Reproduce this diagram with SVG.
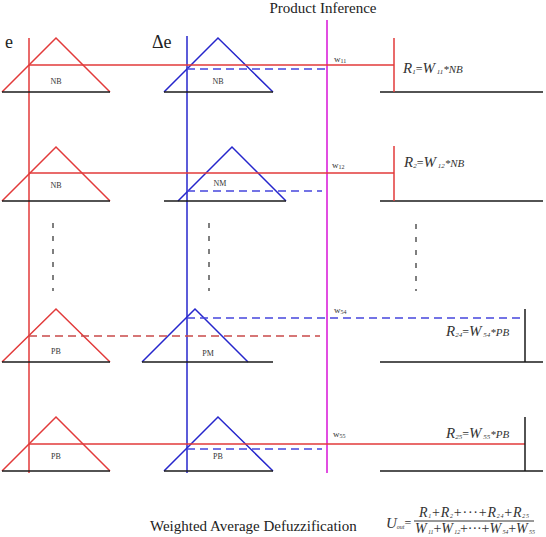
<svg xmlns="http://www.w3.org/2000/svg" width="546" height="537" viewBox="0 0 546 537">
<style>
.red{stroke:#e23a3a;stroke-width:1.5;fill:none}
.blue{stroke:#2626cc;stroke-width:1.5;fill:none}
.mag{stroke:#e14ee1;stroke-width:2;fill:none}
.blk{stroke:#1a1a1a;stroke-width:1.5;fill:none}
.bd{stroke:#4646dd;stroke-width:1.5;fill:none;stroke-dasharray:8 5}
.rd{stroke:#c94a4a;stroke-width:1.5;fill:none;stroke-dasharray:8 5}
.gd{stroke:#555;stroke-width:1.5;fill:none;stroke-dasharray:5 8}
.t{font-family:"Liberation Serif",serif;fill:#222}
.lab{font-family:"Liberation Serif",serif;font-size:8px;fill:#333;text-anchor:middle}
.w{font-family:"Liberation Serif",serif;font-size:9px;fill:#333}
.r{font-family:"Liberation Serif",serif;font-style:italic;fill:#333}
</style>
<text class="t" x="323" y="13" font-size="15" text-anchor="middle">Product Inference</text>
<text class="t" x="5" y="48" font-size="18">e</text>
<text class="t" x="152" y="48" font-size="18">Δe</text>

<g id="connectors">
<line class="red" x1="29" y1="38" x2="29" y2="473"/>
<line class="blue" x1="187" y1="36" x2="187" y2="473"/>
<line class="mag" x1="327" y1="20" x2="327" y2="473"/>
<line class="gd" x1="53" y1="223" x2="53" y2="291"/>
<line class="gd" x1="209" y1="223" x2="209" y2="291"/>
<line class="gd" x1="416" y1="224" x2="416" y2="291"/>
</g>

<g id="row1">
<polyline class="red" points="2,92 56,38 110,92"/>
<polyline class="blue" points="164,92 218,38 273,92"/>
<polyline class="blk" points="2,92 110,92"/>
<polyline class="blk" points="164,92 273,92"/>
<polyline class="blk" points="380,92 543,92"/>
<line class="red" x1="29" y1="65" x2="394" y2="65"/>
<line class="bd" x1="187" y1="69" x2="325" y2="69"/>
<line class="red" x1="394" y1="38" x2="394" y2="92"/>
<text class="lab" x="56" y="84">NB</text>
<text class="lab" x="218" y="84">NB</text>
<text class="w" x="334" y="62">w<tspan font-size="6" dy="1">11</tspan></text>
<text class="r" x="403" y="73" font-size="15">R<tspan font-size="7" dy="1">1</tspan><tspan font-style="normal" font-size="12" dy="-1">=</tspan>W<tspan font-size="7" dy="1"> 11</tspan><tspan font-size="11" dy="-1">*NB</tspan></text>
</g>

<g id="row2">
<polyline class="red" points="2,201 56,147 110,201"/>
<polyline class="blue" points="178,201 232,147 286,201"/>
<polyline class="blk" points="2,201 110,201"/>
<polyline class="blk" points="164,201 286,201"/>
<polyline class="blk" points="380,201 543,201"/>
<line class="red" x1="29" y1="173" x2="394" y2="173"/>
<line class="bd" x1="187" y1="191" x2="322" y2="191"/>
<line class="red" x1="394" y1="146" x2="394" y2="201"/>
<text class="lab" x="56" y="188">NB</text>
<text class="lab" x="220" y="186">NM</text>
<text class="w" x="332" y="168">w<tspan font-size="6" dy="1">12</tspan></text>
<text class="r" x="404" y="167" font-size="15">R<tspan font-size="7" dy="1">2</tspan><tspan font-style="normal" font-size="12" dy="-1">=</tspan>W<tspan font-size="7" dy="1"> 12</tspan><tspan font-size="11" dy="-1">*NB</tspan></text>
</g>

<g id="row4">
<polyline class="red" points="2,362 56,309 110,362"/>
<polyline class="blue" points="142,362 195,309 248,362"/>
<polyline class="blk" points="2,362 110,362"/>
<polyline class="blk" points="142,362 273,362"/>
<polyline class="blk" points="380,362 543,362"/>
<line class="rd" x1="29" y1="336" x2="320" y2="336"/>
<line class="bd" x1="187" y1="318" x2="525" y2="318"/>
<line class="blk" x1="525" y1="309" x2="525" y2="362"/>
<text class="lab" x="56" y="354">PB</text>
<text class="lab" x="208" y="356">PM</text>
<text class="w" x="334" y="313">w<tspan font-size="6" dy="1">54</tspan></text>
<text class="r" x="446" y="336" font-size="15">R<tspan font-size="7" dy="1">24</tspan><tspan font-style="normal" font-size="12" dy="-1">=</tspan>W<tspan font-size="7" dy="1"> 54</tspan><tspan font-size="11" dy="-1">*PB</tspan></text>
</g>

<g id="row5">
<polyline class="red" points="2,471 56,417 110,471"/>
<polyline class="blue" points="164,471 218,417 273,471"/>
<polyline class="blk" points="2,471 110,471"/>
<polyline class="blk" points="164,471 273,471"/>
<polyline class="blk" points="380,471 543,471"/>
<line class="red" x1="29" y1="444" x2="525" y2="444"/>
<line class="bd" x1="187" y1="449" x2="322" y2="449"/>
<line class="blk" x1="525" y1="417" x2="525" y2="471"/>
<text class="lab" x="56" y="459">PB</text>
<text class="lab" x="218" y="459">PB</text>
<text class="w" x="333" y="437">w<tspan font-size="6" dy="1">55</tspan></text>
<text class="r" x="446" y="438" font-size="15">R<tspan font-size="7" dy="1">25</tspan><tspan font-style="normal" font-size="12" dy="-1">=</tspan>W<tspan font-size="7" dy="1"> 55</tspan><tspan font-size="11" dy="-1">*PB</tspan></text>
</g>

<g id="defuzz">
<text class="t" x="150" y="531" font-size="15">Weighted Average Defuzzification</text>
<text class="r" x="386" y="528" font-size="15">U<tspan font-size="6" dy="1">out</tspan><tspan font-style="normal" font-size="12" dy="-2">=</tspan></text>
<line x1="414" y1="521" x2="534" y2="521" stroke="#333" stroke-width="1"/>
<text class="r" x="474" y="517" font-size="14" text-anchor="middle" textLength="110" lengthAdjust="spacing">R<tspan font-size="6" dy="1">1</tspan><tspan font-style="normal" dy="-1">+</tspan>R<tspan font-size="6" dy="1">2</tspan><tspan font-style="normal" dy="-1">+···+</tspan>R<tspan font-size="6" dy="1">24</tspan><tspan font-style="normal" dy="-1">+</tspan>R<tspan font-size="6" dy="1">25</tspan></text>
<text class="r" x="475" y="533" font-size="14" text-anchor="middle" textLength="120" lengthAdjust="spacing">W<tspan font-size="6" dy="1"> 11</tspan><tspan font-style="normal" dy="-1">+</tspan>W<tspan font-size="6" dy="1"> 12</tspan><tspan font-style="normal" dy="-1">+···+</tspan>W<tspan font-size="6" dy="1"> 54</tspan><tspan font-style="normal" dy="-1">+</tspan>W<tspan font-size="6" dy="1"> 55</tspan></text>
</g>
</svg>
